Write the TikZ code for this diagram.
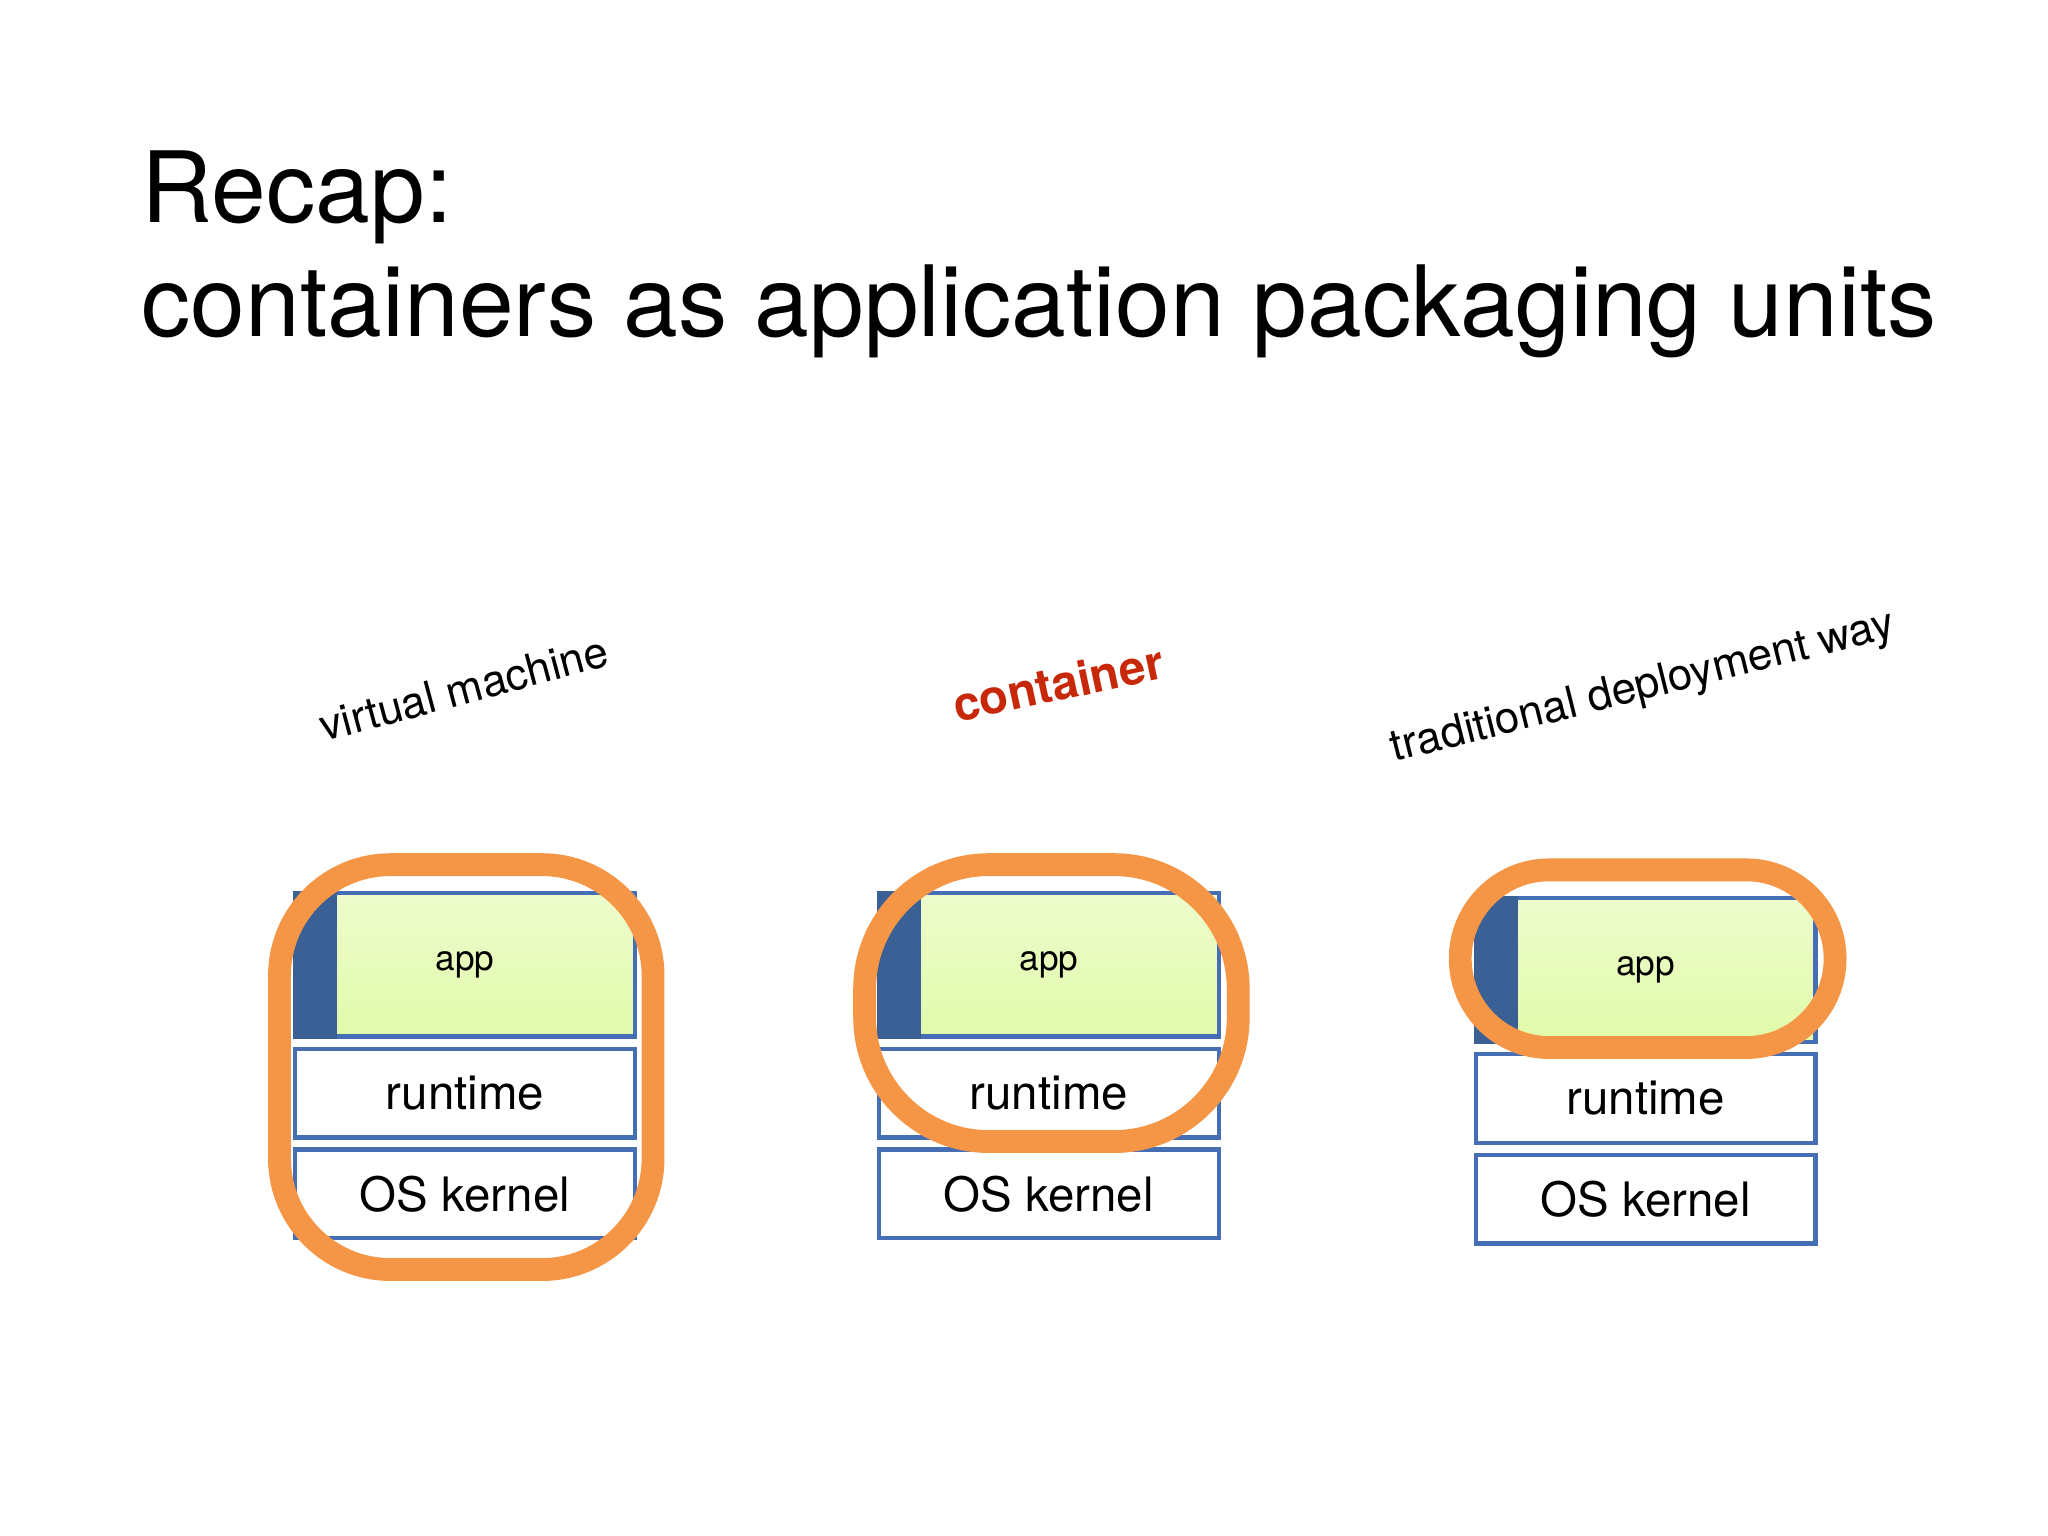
\documentclass[tikz,border=0pt]{standalone}
\usepackage{fontspec}
\setmainfont{TeX Gyre Heros}
\usetikzlibrary{positioning}
\definecolor{boxblue}{RGB}{70,110,180}
\definecolor{stripblue}{RGB}{58,96,150}
\definecolor{appgreen}{RGB}{225,250,170}
\definecolor{ringorange}{RGB}{245,150,70}
\definecolor{hired}{RGB}{200,40,10}
\tikzset{
  layer/.style={draw=boxblue, line width=1.2pt, fill=white, minimum width=260*0.01306cm,
    minimum height=68*0.01306cm, inner sep=0pt, font=\fontsize{13.5}{16}\selectfont},
  applayer/.style={layer, minimum height=110*0.01306cm, top color=white!40!appgreen, bottom color=appgreen},
  ring/.style={draw=ringorange, line width=6.5pt},
  kind/.style={font=\fontsize{12.5}{15}\selectfont}
}
\begin{document}
\begin{tikzpicture}[x=0.01306cm, y=-0.01306cm]
    % page
    \useasboundingbox (0,0) rectangle (1568,1176);
    % title
    \node[anchor=base west, font=\fontsize{28}{34}\selectfont, inner sep=0pt] (recap) at (108,170) {Recap:};
    \node[anchor=base west, font=\fontsize{28}{34}\selectfont, inner sep=0pt] (subtitle) at (108,258) {containers as application packaging units};

    % stacks
    \foreach \name/\x/\y in {vm/356/682, ct/803/682, td/1260/686} {
        \node[applayer, anchor=north] (\name-app) at (\x,\y) {};
        \fill[stripblue] (\name-app.north west) rectangle ([xshift=34*0.01306cm]\name-app.south west);
        \node at ([xshift=0]\name-app.center) {app};
        \node[layer, below=6*0.01306cm of \name-app] (\name-rt) {runtime};
        \node[layer, below=6*0.01306cm of \name-rt] (\name-os) {OS kernel};
    }

    % labels
    \node[kind, rotate=15] (vm-lbl) at (355,527) {virtual machine};
    \node[kind, rotate=12, text=hired, font=\fontsize{13.5}{16}\selectfont\bfseries] (ct-lbl) at (810,523) {container};
    \node[kind, rotate=14] (td-lbl) at (1258,527) {traditional deployment way};

    % rings
    \draw[ring, rounded corners=85*0.01306cm] (214,662) rectangle (500,972);
    \draw[ring, rounded corners=95*0.01306cm] (662,662) rectangle (948,874);
    \draw[ring, rounded corners=68*0.01306cm] (1118,666) rectangle (1405,802);
\end{tikzpicture}
\end{document}
